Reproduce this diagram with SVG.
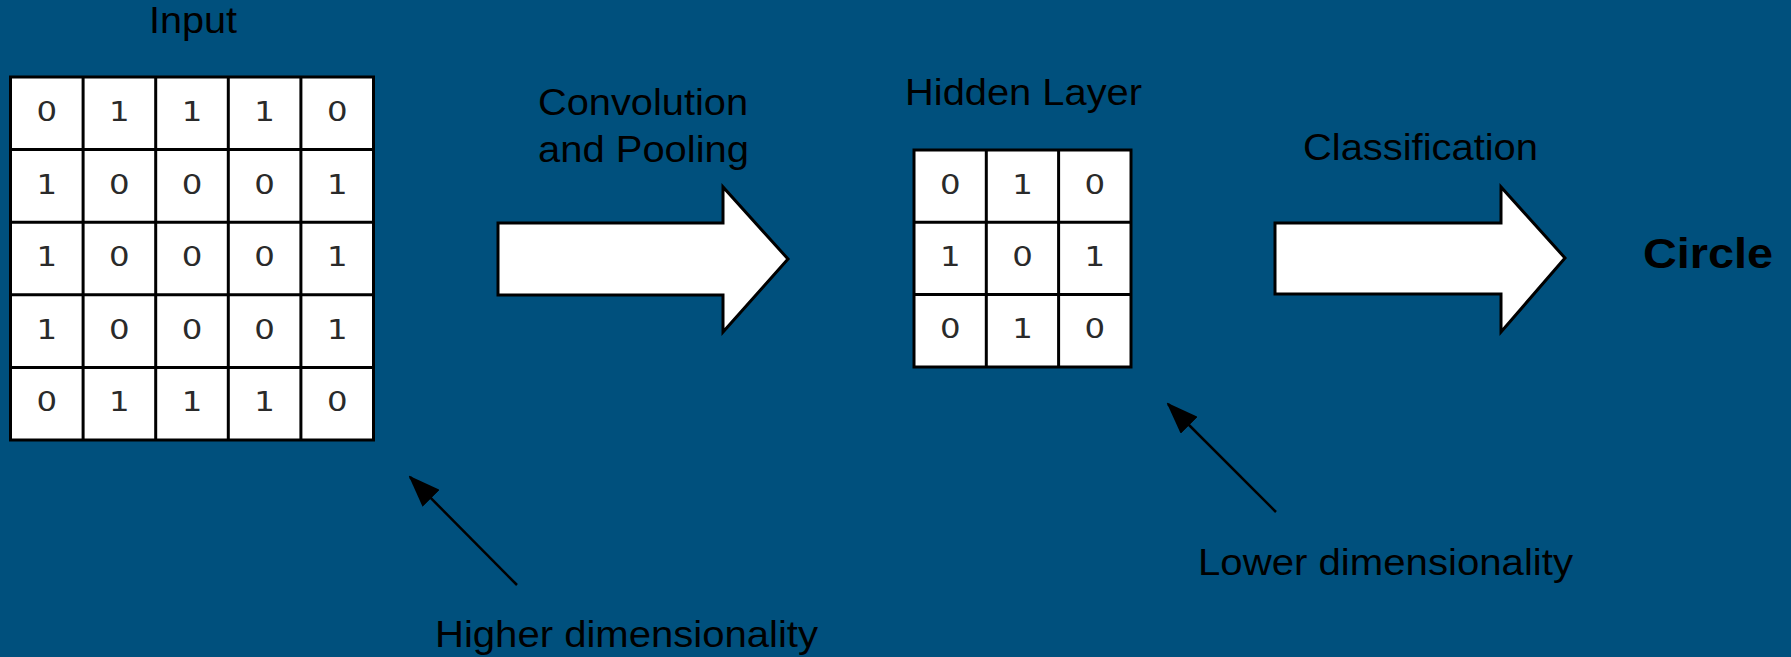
<svg xmlns="http://www.w3.org/2000/svg" width="1791" height="657" viewBox="0 0 1791 657">
<style>
.t{font-family:"Liberation Sans",Arial,sans-serif;font-size:36px;fill:#000}
.b{font-family:"Liberation Sans",Arial,sans-serif;font-size:43px;font-weight:bold;fill:#000}
.d{font-family:"DejaVu Sans","Liberation Sans",sans-serif;font-size:27px;fill:#2a2a2a;text-anchor:middle}
.grid{fill:#fff;stroke:#000;stroke-width:3}
.gl{stroke:#000;stroke-width:3}
.blk{fill:#fff;stroke:#000;stroke-width:3;stroke-linejoin:miter}
.con{stroke:#000;stroke-width:2.5;fill:none}
</style>
<defs>
<marker id="ah" markerUnits="userSpaceOnUse" markerWidth="32" markerHeight="24" viewBox="0 0 32 24" refX="30" refY="12" orient="auto">
<path d="M0,0 L32,12 L0,24 z" fill="#000"/>
</marker>
</defs>
<rect width="1791" height="657" fill="#00507d"/>

<g id="input">
<text class="t" x="193" y="33" text-anchor="middle" textLength="88" lengthAdjust="spacingAndGlyphs">Input</text>
<rect class="grid" x="10.5" y="77" width="363" height="363"/>
<path class="gl" d="M83.1,77V440M155.7,77V440M228.3,77V440M300.9,77V440M10.5,149.6H373.5M10.5,222.2H373.5M10.5,294.8H373.5M10.5,367.4H373.5"/>
<g>
<text class="d" transform="translate(46.8,121) scale(1.2,1)">0</text>
<text class="d" transform="translate(119.4,121) scale(1.2,1)">1</text>
<text class="d" transform="translate(192,121) scale(1.2,1)">1</text>
<text class="d" transform="translate(264.6,121) scale(1.2,1)">1</text>
<text class="d" transform="translate(337.2,121) scale(1.2,1)">0</text>
<text class="d" transform="translate(46.8,193.6) scale(1.2,1)">1</text>
<text class="d" transform="translate(119.4,193.6) scale(1.2,1)">0</text>
<text class="d" transform="translate(192,193.6) scale(1.2,1)">0</text>
<text class="d" transform="translate(264.6,193.6) scale(1.2,1)">0</text>
<text class="d" transform="translate(337.2,193.6) scale(1.2,1)">1</text>
<text class="d" transform="translate(46.8,266.2) scale(1.2,1)">1</text>
<text class="d" transform="translate(119.4,266.2) scale(1.2,1)">0</text>
<text class="d" transform="translate(192,266.2) scale(1.2,1)">0</text>
<text class="d" transform="translate(264.6,266.2) scale(1.2,1)">0</text>
<text class="d" transform="translate(337.2,266.2) scale(1.2,1)">1</text>
<text class="d" transform="translate(46.8,338.8) scale(1.2,1)">1</text>
<text class="d" transform="translate(119.4,338.8) scale(1.2,1)">0</text>
<text class="d" transform="translate(192,338.8) scale(1.2,1)">0</text>
<text class="d" transform="translate(264.6,338.8) scale(1.2,1)">0</text>
<text class="d" transform="translate(337.2,338.8) scale(1.2,1)">1</text>
<text class="d" transform="translate(46.8,411.4) scale(1.2,1)">0</text>
<text class="d" transform="translate(119.4,411.4) scale(1.2,1)">1</text>
<text class="d" transform="translate(192,411.4) scale(1.2,1)">1</text>
<text class="d" transform="translate(264.6,411.4) scale(1.2,1)">1</text>
<text class="d" transform="translate(337.2,411.4) scale(1.2,1)">0</text>
</g>
</g>

<g id="conv-arrow">
<text class="t" x="643" y="115" text-anchor="middle" textLength="210" lengthAdjust="spacingAndGlyphs">Convolution</text>
<text class="t" x="643.5" y="162" text-anchor="middle" textLength="211" lengthAdjust="spacingAndGlyphs">and Pooling</text>
<polygon class="blk" points="498,223 723,223 723,187 788,259 723,332 723,295 498,295"/>
</g>

<g id="hidden">
<text class="t" x="1023.5" y="105" text-anchor="middle" textLength="237" lengthAdjust="spacingAndGlyphs">Hidden Layer</text>
<rect class="grid" x="914" y="150" width="217" height="217"/>
<path class="gl" d="M986.3,150V367M1058.6,150V367M914,222.3H1131M914,294.6H1131"/>
<g>
<text class="d" transform="translate(950.2,193.5) scale(1.2,1)">0</text>
<text class="d" transform="translate(1022.5,193.5) scale(1.2,1)">1</text>
<text class="d" transform="translate(1094.8,193.5) scale(1.2,1)">0</text>
<text class="d" transform="translate(950.2,265.8) scale(1.2,1)">1</text>
<text class="d" transform="translate(1022.5,265.8) scale(1.2,1)">0</text>
<text class="d" transform="translate(1094.8,265.8) scale(1.2,1)">1</text>
<text class="d" transform="translate(950.2,338.1) scale(1.2,1)">0</text>
<text class="d" transform="translate(1022.5,338.1) scale(1.2,1)">1</text>
<text class="d" transform="translate(1094.8,338.1) scale(1.2,1)">0</text>
</g>
</g>

<g id="class-arrow">
<text class="t" x="1420.5" y="160" text-anchor="middle" textLength="235" lengthAdjust="spacingAndGlyphs">Classification</text>
<polygon class="blk" points="1275,223 1501,223 1501,187 1565,258 1501,332 1501,294 1275,294"/>
</g>

<g id="circle">
<text class="b" x="1643" y="268" textLength="130" lengthAdjust="spacingAndGlyphs">Circle</text>
</g>

<g id="higher">
<text class="t" x="435" y="647" textLength="383" lengthAdjust="spacingAndGlyphs">Higher dimensionality</text>
</g>

<g id="lower">
<text class="t" x="1198" y="575" textLength="375" lengthAdjust="spacingAndGlyphs">Lower dimensionality</text>
</g>

<g id="connectors">
<line class="con" x1="517" y1="585" x2="410" y2="477" marker-end="url(#ah)"/>
<line class="con" x1="1276" y1="512" x2="1168" y2="404" marker-end="url(#ah)"/>
</g>
</svg>
